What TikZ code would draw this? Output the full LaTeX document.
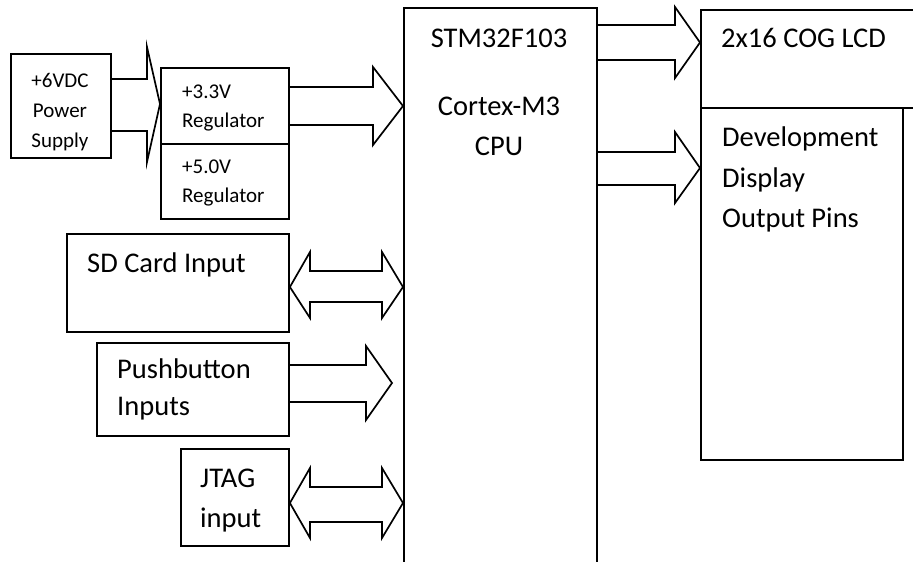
\documentclass[tikz,border=0pt]{standalone}
\usepackage{fontspec}
\setmainfont{Carlito}
\begin{document}
\begin{tikzpicture}[x=1pt,y=-1pt,
  box/.style={draw, line width=1.9pt, inner sep=0pt, anchor=north west},
  blk/.style={draw, line width=1.7pt, line join=miter},
  big/.style={font=\fontsize{28.5}{34}\selectfont, inner sep=0pt},
  small/.style={font=\fontsize{21}{25}\selectfont, inner sep=0pt}]
\useasboundingbox[fill=white] (0,0) rectangle (913,562);
% boxes
\node[box, minimum width=100pt, minimum height=104pt] (ps) at (10,53) {};
\node[box, minimum width=128pt, minimum height=76pt] (reg33) at (160,67) {};
\node[box, minimum width=128pt, minimum height=75pt] (reg50) at (160,143) {};
\node[box, minimum width=193pt, minimum height=600pt] (cpu) at (403,7) {};
\node[box, minimum width=250pt, minimum height=98pt] (lcd) at (700,9) {};
\node[box, minimum width=202pt, minimum height=352pt] (dev) at (700,107) {};
\node[box, minimum width=222pt, minimum height=98pt] (sd) at (66,233) {};
\node[box, minimum width=192pt, minimum height=93pt] (pb) at (96,342) {};
\node[box, minimum width=108pt, minimum height=97pt] (jtag) at (180,448) {};
% texts
\node[small, anchor=base] (t1) at (60,87) {+6VDC};
\node[small, anchor=base] (t2) at (60,117) {Power};
\node[small, anchor=base] (t3) at (60,147) {Supply};
\node[small, anchor=base west] (t4) at (182,98) {+3.3V};
\node[small, anchor=base west] (t5) at (182,127) {Regulator};
\node[small, anchor=base west] (t6) at (182,173) {+5.0V};
\node[small, anchor=base west] (t7) at (182,202) {Regulator};
\node[big, anchor=base] (t8) at (499,47) {STM32F103};
\node[big, anchor=base] (t9) at (499,115) {Cortex-M3};
\node[big, anchor=base] (t10) at (499,155) {CPU};
\node[big, anchor=base west] (t11) at (721,47) {2x16 COG LCD};
\node[big, anchor=base west] (t12) at (722,146) {Development};
\node[big, anchor=base west] (t13) at (722,187) {Display};
\node[big, anchor=base west] (t14) at (722,227) {Output Pins};
\node[big, anchor=base west] (t15) at (87,272) {SD Card Input};
\node[big, anchor=base west] (t16) at (117,378) {Pushbutton};
\node[big, anchor=base west] (t17) at (117,415) {Inputs};
\node[big, anchor=base west] (t18) at (200,487) {JTAG};
\node[big, anchor=base west] (t19) at (200,527) {input};
% block arrows
\draw[blk] (ps.east |- 0,79) -- (147,79) -- (147,47) -- (reg33.west |- 0,104)
  -- (147,162) -- (147,131) -- (ps.east |- 0,131);
\draw[blk] (reg33.east |- 0,87) -- (373,87) -- (373,67) -- (cpu.west |- 0,106)
  -- (373,145) -- (373,125) -- (reg33.east |- 0,125);
\draw[blk] (cpu.east |- 0,25) -- (675,25) -- (675,7) -- (lcd.west |- 0,42.5)
  -- (675,78) -- (675,60) -- (cpu.east |- 0,60);
\draw[blk] (cpu.east |- 0,152) -- (675,152) -- (675,132) -- (dev.west |- 0,168)
  -- (675,203) -- (675,185) -- (cpu.east |- 0,185);
\draw[blk] (sd.east |- 0,287) -- (310,252) -- (310,271) -- (382,271) -- (382,252)
  -- (cpu.west |- 0,287) -- (382,318) -- (382,302) -- (310,302) -- (310,318) -- cycle;
\coordinate (pbtip) at (392,383);
\draw[blk] (pb.east |- 0,365) -- (366,365) -- (366,346) -- (pbtip)
  -- (366,420) -- (366,402) -- (pb.east |- 0,402);
\draw[blk] (jtag.east |- 0,503) -- (310,468) -- (310,487) -- (382,487) -- (382,468)
  -- (cpu.west |- 0,503) -- (382,538) -- (382,522) -- (310,522) -- (310,538) -- cycle;
\end{tikzpicture}
\end{document}
